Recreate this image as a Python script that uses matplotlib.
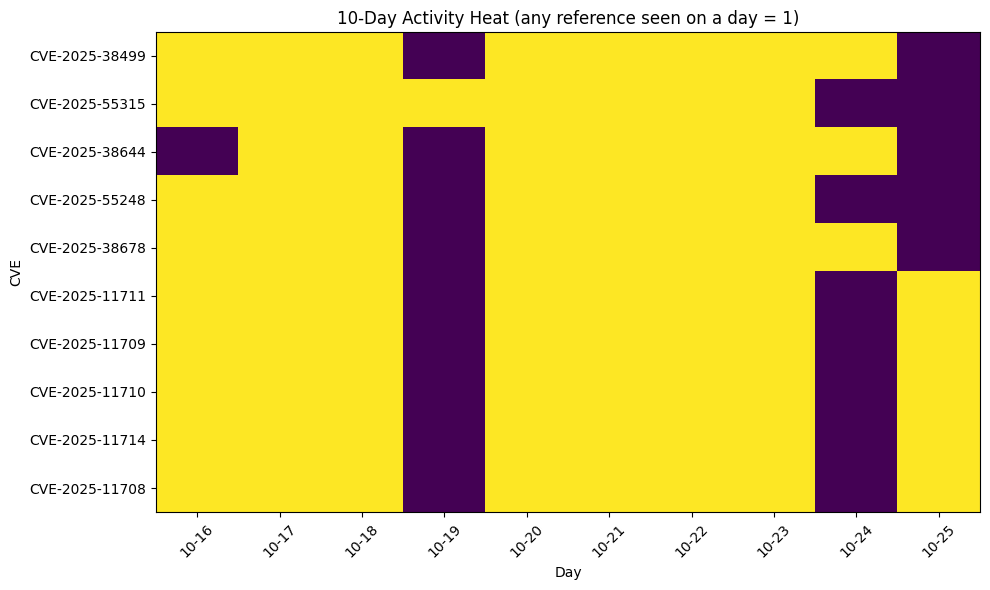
import numpy as np
import matplotlib
matplotlib.use("Agg")
import matplotlib.pyplot as plt

days = ["10-16", "10-17", "10-18", "10-19", "10-20",
        "10-21", "10-22", "10-23", "10-24", "10-25"]
cves = ["CVE-2025-38499", "CVE-2025-55315", "CVE-2025-38644", "CVE-2025-55248",
        "CVE-2025-38678", "CVE-2025-11711", "CVE-2025-11709", "CVE-2025-11710",
        "CVE-2025-11714", "CVE-2025-11708"]
activity = [
    [1, 1, 1, 0, 1, 1, 1, 1, 1, 0],
    [1, 1, 1, 1, 1, 1, 1, 1, 0, 0],
    [0, 1, 1, 0, 1, 1, 1, 1, 1, 0],
    [1, 1, 1, 0, 1, 1, 1, 1, 0, 0],
    [1, 1, 1, 0, 1, 1, 1, 1, 1, 0],
    [1, 1, 1, 0, 1, 1, 1, 1, 0, 1],
    [1, 1, 1, 0, 1, 1, 1, 1, 0, 1],
    [1, 1, 1, 0, 1, 1, 1, 1, 0, 1],
    [1, 1, 1, 0, 1, 1, 1, 1, 0, 1],
    [1, 1, 1, 0, 1, 1, 1, 1, 0, 1],
]

fig, ax = plt.subplots(figsize=(9.9, 5.9), dpi=100)
ax.imshow(np.array(activity), aspect="auto", cmap="viridis")
ax.set_xticks(range(len(days)))
ax.set_xticklabels(days, rotation=45)
ax.set_yticks(range(len(cves)))
ax.set_yticklabels(cves)
ax.set_xlabel("Day")
ax.set_ylabel("CVE")
ax.set_title("10-Day Activity Heat (any reference seen on a day = 1)")
plt.subplots_adjust(left=0.1576, right=0.9899, top=0.9458, bottom=0.1322)
plt.savefig("out.png")
